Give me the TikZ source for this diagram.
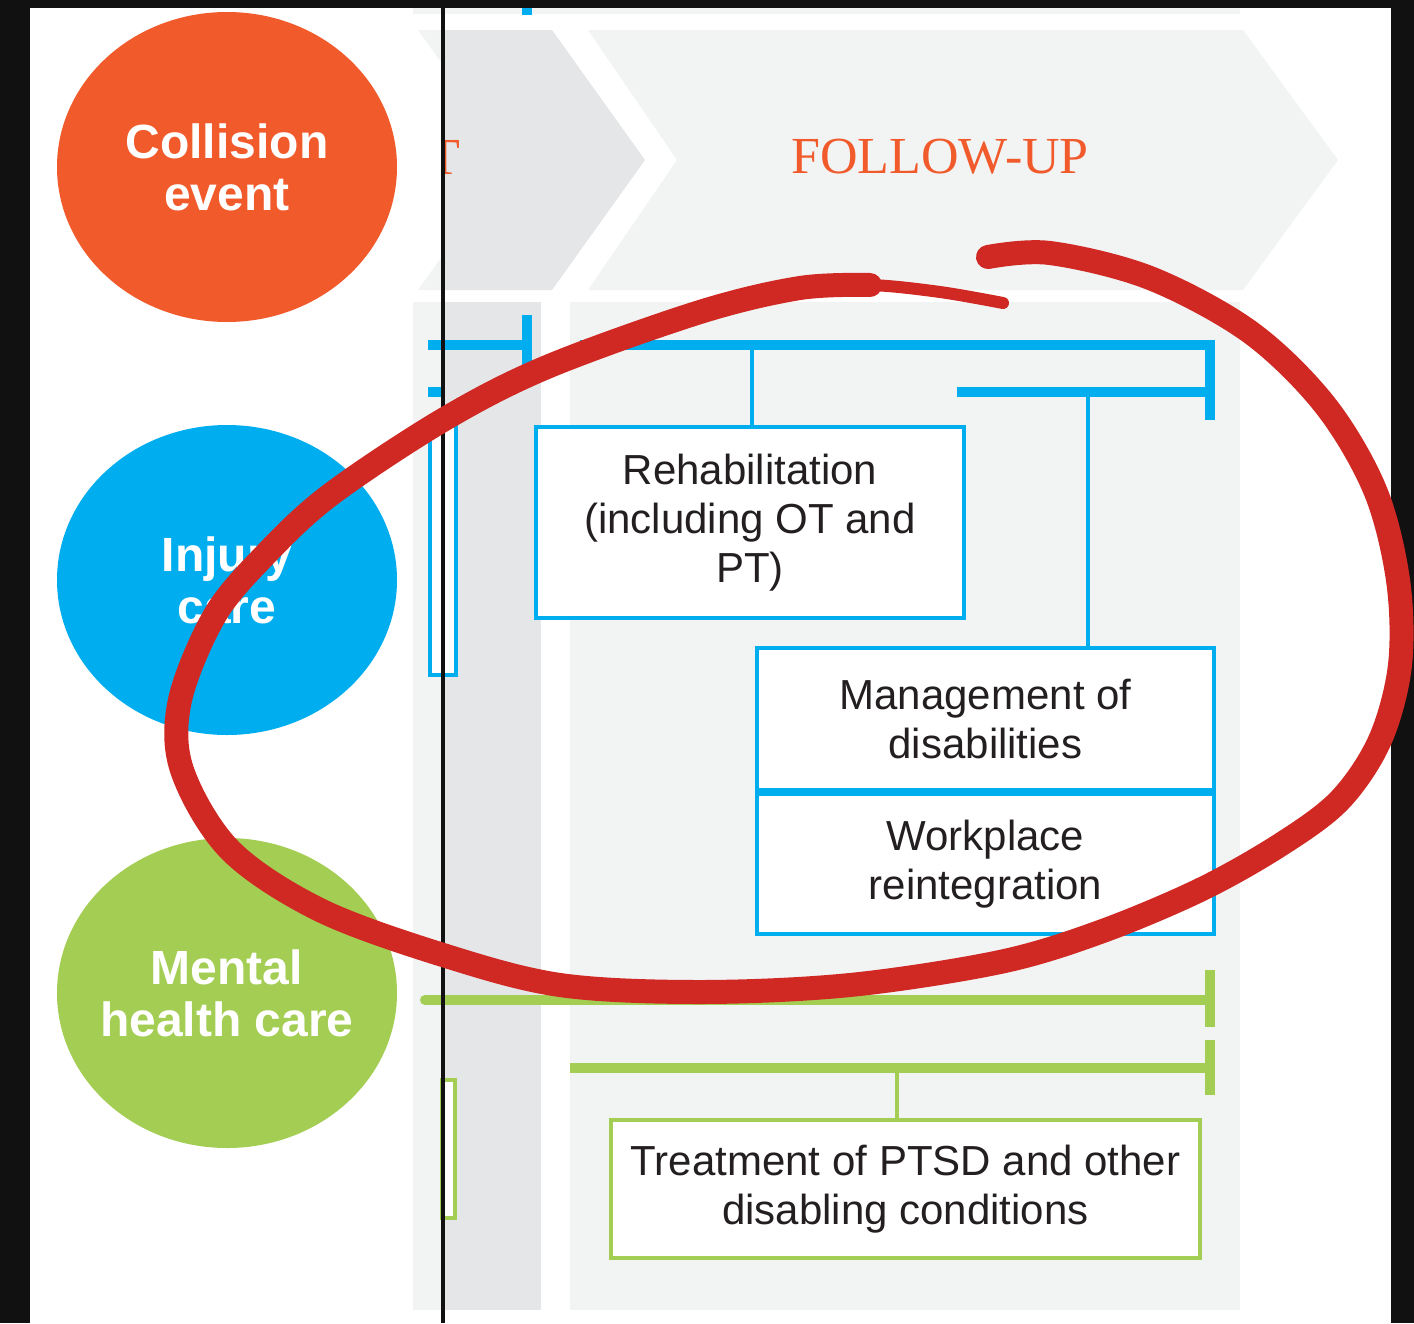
\documentclass[tikz,border=0pt]{standalone}
\usepackage{fontspec}
\setsansfont{Liberation Sans}
\newfontfamily\headfont{Liberation Serif}
\usepackage{xcolor}
\usepackage{tikz}
\usetikzlibrary{shapes.geometric, positioning}
\definecolor{collorange}{RGB}{241,90,43}
\definecolor{injblue}{RGB}{0,174,239}
\definecolor{mentgreen}{RGB}{163,205,83}
\definecolor{lanedark}{RGB}{229,230,232}
\definecolor{lanelight}{RGB}{242,243,243}
\definecolor{textdark}{RGB}{35,31,32}
\definecolor{annotred}{RGB}{208,41,36}
\definecolor{framegray}{RGB}{17,17,17}
\tikzset{
    stage/.style={ellipse, minimum width=170pt, minimum height=155pt, inner sep=-15pt, text=white, align=center, font=\sffamily\bfseries\fontsize{24}{26}\selectfont},
    phase/.style={inner sep=0pt, text=collorange, font=\headfont\fontsize{26}{30}\selectfont},
    boxnode/.style={rectangle, draw, fill=white, line width=2pt, inner sep=0pt, align=center, text=textdark, font=\sffamily\fontsize{21}{24.5}\selectfont},
    bar/.style={line width=5pt},
    tick/.style={line width=5pt},
    link/.style={line width=2pt},
    annot/.style={annotred, line width=12pt, line cap=round, line join=round}
}

\begin{document}
\begin{tikzpicture}[x=0.5pt, y=-0.5pt]
    \useasboundingbox (0,0) rectangle (1414,1323);
    \fill[white] (0,0) rectangle (1414,1323);

    % phase banners
    \fill[lanelight] (413,8) rectangle (1240,14);
    \fill[lanelight] (418,30) -- (443,30) -- (443,65) -- cycle;
    \fill[lanelight] (418,290) -- (443,290) -- (443,255) -- cycle;
    \fill[lanedark] (443,30) -- (552,30) -- (645,160) -- (552,290) -- (443,290) -- cycle;
    \fill[lanelight] (588,30) -- (1243,30) -- (1338,160) -- (1243,290) -- (588,290) -- (677,160) -- cycle;
    \begin{scope}
        \clip (443,100) rectangle (480,220);
        \node (prevphase) [phase, anchor=east] at (461,157) {T};
    \end{scope}
    \node (followup) [phase] at (940,157) {FOLLOW-UP};

    % lanes
    \fill[lanelight] (413,302) rectangle (443,1310);
    \fill[lanedark] (443,302) rectangle (541,1310);
    \fill[lanelight] (570,302) rectangle (1240,1310);

    % stages
    \node (collision) [stage, fill=collorange] at (227,167) {Collision\\event};
    \node (injury) [stage, fill=injblue] at (227,580) {Injury\\care};
    \node (mental) [stage, fill=mentgreen] at (227,993) {Mental\\health care};

    % injury care bars
    \coordinate (injtopL) at (428,345);
    \coordinate (injtopR) at (527,345);
    \coordinate (injbarL) at (580,345);
    \coordinate (injbarR) at (1210,345);
    \coordinate (injsubL) at (957,392);
    \coordinate (injsubR) at (1210,392);
    \coordinate (rehabtap) at (752,345);
    \coordinate (managetap) at (1088,392);
    \draw[tick, injblue] (527,8) -- (527,15);
    \draw[bar, injblue] (injtopL) -- (injtopR);
    \draw[tick, injblue] (527,315) -- (527,370);
    \draw[bar, injblue] (428,392) -- (443,392);
    \draw[link, injblue, fill=white] (430,425) rectangle (456,675);
    \draw[bar, injblue] (injbarL) -- (injbarR);
    \draw[bar, injblue] (injsubL) -- (injsubR);
    \draw[tick, injblue] (1210,340) -- (1210,420);

    \node (rehab) [boxnode, draw=injblue, minimum width=214pt, minimum height=95.5pt] at (750,522.5) {Rehabilitation\\(including OT and\\PT)};
    \node (manage) [boxnode, draw=injblue, minimum width=228.5pt, minimum height=71pt] at (985.5,719) {Management of\\disabilities};
    \node (workplace) [boxnode, draw=injblue, minimum width=228.5pt, minimum height=70pt, below=0pt of manage] {Workplace\\reintegration};
    \draw[link, injblue] (rehabtap) -- (rehabtap |- rehab.north);
    \draw[link, injblue] (managetap) -- (managetap |- manage.north);

    % mental health bars
    \coordinate (mentbarL) at (425,1000);
    \coordinate (mentbarR) at (1210,1000);
    \coordinate (mentsubL) at (570,1068);
    \coordinate (mentsubR) at (1210,1068);
    \coordinate (treattap) at (897,1068);
    \draw[link, mentgreen, fill=white] (442,1080) rectangle (455,1218);
    \draw[bar, mentgreen, line cap=round] (mentbarL) -- (mentbarR);
    \draw[tick, mentgreen] (1210,970) -- (1210,1027);
    \draw[bar, mentgreen] (mentsubL) -- (mentsubR);
    \draw[tick, mentgreen] (1210,1040) -- (1210,1095);
    \node (treatment) [boxnode, draw=mentgreen, minimum width=294.5pt, minimum height=69pt] at (905.5,1189) {Treatment of PTSD and other\\disabling conditions};
    \draw[link, mentgreen] (treattap) -- (treattap |- treatment.north);

    % frame
    \draw[line width=2pt, framegray] (443,8) -- (443,1323);
    \fill[framegray] (0,0) rectangle (30,1323);
    \fill[framegray] (1391,0) rectangle (1414,1323);
    \fill[framegray] (0,0) rectangle (1414,8);

    % hand-drawn loop
    \draw[annot] plot[smooth, tension=0.55] coordinates {(988,257) (1050,253) (1150,278) (1250,332) (1325,405) (1375,490) (1398,580) (1400,665) (1380,740) (1340,800) (1280,845) (1200,890) (1100,932) (1000,962) (850,985) (700,992) (560,985) (443,955) (320,910) (230,850) (182,770) (180,700) (215,615) (265,555) (330,495) (443,420) (547,367) (700,312) (800,288) (870,285)};
    \draw[annot, line width=6pt] plot[smooth, tension=0.55] coordinates {(800,288) (870,285) (940,292) (1003,303)};
\end{tikzpicture}
\end{document}
